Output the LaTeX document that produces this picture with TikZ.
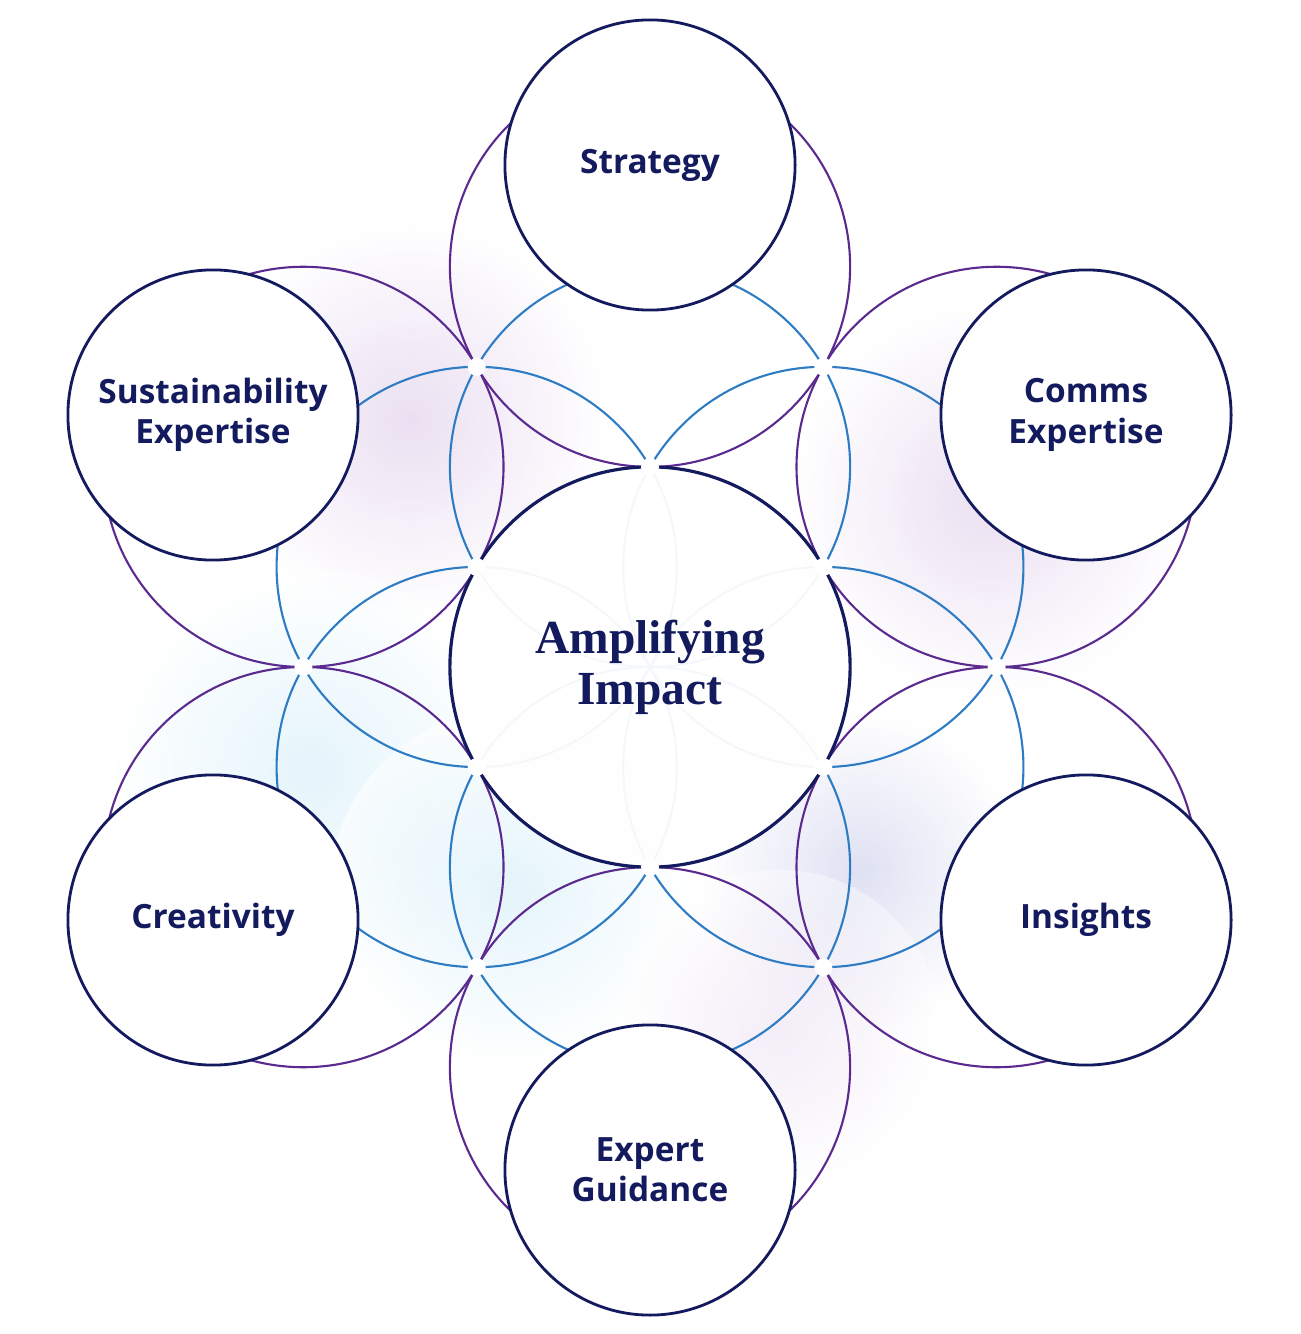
\documentclass[tikz,border=0pt]{standalone}
\usepackage{fontspec}
\setmainfont{Open Sans}
\newfontfamily\serifb{Liberation Serif}
\usetikzlibrary{fadings,calc}
\definecolor{navy}{HTML}{141A5E}
\definecolor{purp}{HTML}{5A2A8E}
\definecolor{blu}{HTML}{2E7CC4}
\definecolor{glowp}{HTML}{E2D2EC}
\definecolor{glowb}{HTML}{D2EDF8}
\definecolor{glowm}{HTML}{C9CDEA}
\tikzset{
  ring/.style={line width=0.6pt},
  outer/.style={circle,draw=navy,line width=0.8pt,fill=white,minimum size=2.9cm,inner sep=0pt,align=center,text=navy,font=\fontsize{9.5}{11.5}\selectfont\bfseries},
  dot/.style={circle,fill=white,minimum size=0.18cm,inner sep=0pt},
}
\begin{document}
\begin{tikzpicture}[x=0.01cm,y=-0.01cm]
\useasboundingbox (0,0) rectangle (1300,1334);
% glows
\shade[inner color=glowp,outer color=white,opacity=0.7] (410,420) circle (2cm);
\shade[inner color=glowp,outer color=white,opacity=0.7] (990,500) circle (2cm);
\shade[inner color=glowb,outer color=white,opacity=0.6] (310,770) circle (2cm);
\shade[inner color=glowb,outer color=white,opacity=0.6] (510,890) circle (1.8cm);
\shade[inner color=glowm,outer color=white,opacity=0.6] (860,870) circle (1.6cm);
\shade[inner color=glowp,outer color=white,opacity=0.4] (780,1030) circle (1.6cm);
% coordinates
\coordinate (C) at (650,667);
\foreach \n/\a in {a/90,b/30,c/-30,d/-90,e/-150,f/150}{
  \coordinate (r1\n) at ($(650,667)+(\a:2cm)$);
  \coordinate (r2\n) at ($(650,667)+(\a:4cm)$);
}
% outer ring circles
\foreach \n in {a,b,c,d,e,f}{\draw[ring,purp] (r2\n) circle (2cm);}
% inner ring circles
\foreach \n in {a,b,c,d,e,f}{\draw[ring,blu] (r1\n) circle (2cm);}
% center
\node[circle,draw=navy,line width=0.9pt,fill=white,fill opacity=0.95,text opacity=1,minimum size=4cm,align=center,text=navy,font=\serifb\fontsize{13.5}{14.5}\selectfont\bfseries] (center) at (C) {Amplifying\\Impact};
% dots
\foreach \a in {0,60,...,300}{
  \node[dot] at ($(650,667)+(\a+30:2cm)$) {};
  \node[dot] at ($(650,667)+(\a:3.464cm)$) {};
}
% outer nodes
\node[outer] (strategy) at (650,165) {Strategy};
\node[outer] (sust) at (213,415) {Sustainability\\Expertise};
\node[outer] (comms) at (1086,415) {Comms\\Expertise};
\node[outer] (creat) at (213,920) {Creativity};
\node[outer] (ins) at (1086,920) {Insights};
\node[outer] (exp) at (650,1170) {Expert\\Guidance};
\end{tikzpicture}
\end{document}
